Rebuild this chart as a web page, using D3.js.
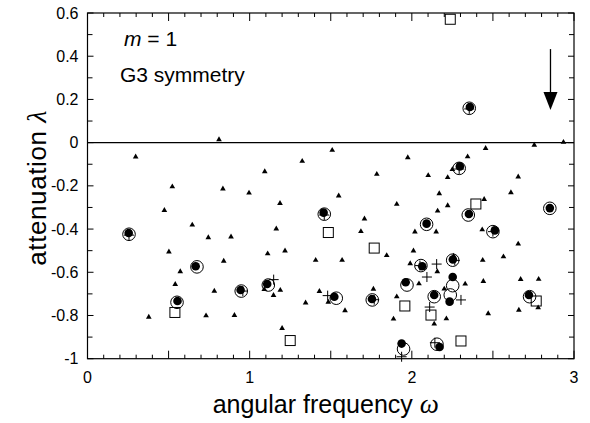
<!DOCTYPE html>
<html><head><meta charset="utf-8">
<script src="https://cdn.jsdelivr.net/npm/d3@7"></script>
<style>body{margin:0;background:#fff}svg{display:block}</style>
</head><body><svg id="c" width="590" height="423"></svg>
<script>
// ---- data (omega, lambda) ----
const triangles = [
[0.297,-0.066],[0.811,0.014],[0.523,-0.204],[0.835,-0.214],[0.996,-0.233],[0.474,-0.313],
[0.646,-0.381],[0.745,-0.439],[0.885,-0.436],[1.509,-0.035],[1.324,-0.086],[1.975,-0.069],
[1.093,-0.134],[1.784,-0.146],[1.187,-0.281],[1.549,-0.246],[1.907,-0.285],[1.708,-0.353],
[1.164,-0.399],[1.686,-0.411],[2.455,-0.026],[2.755,-0.011],[2.935,0.002],[2.344,-0.065],
[2.250,-0.124],[2.101,-0.152],[2.221,-0.161],[2.656,-0.158],[2.169,-0.236],[2.611,-0.231],
[2.446,-0.262],[2.221,-0.291],[2.159,-0.316],[2.019,-0.413],[2.150,-0.413],[2.434,-0.403],
[2.656,-0.469],[0.502,-0.505],[0.840,-0.548],[0.572,-0.597],[0.541,-0.656],[0.782,-0.687],
[0.378,-0.807],[0.731,-0.801],[0.906,-0.799],[1.111,-0.514],[1.218,-0.501],[1.845,-0.522],
[1.407,-0.544],[1.570,-0.544],[1.147,-0.707],[1.189,-0.683],[1.090,-0.679],[1.430,-0.688],
[1.345,-0.741],[1.485,-0.738],[1.588,-0.777],[1.763,-0.678],[1.907,-0.713],[1.887,-0.816],
[1.200,-0.859],[2.010,-0.501],[1.990,-0.560],[2.157,-0.597],[2.257,-0.525],[2.437,-0.544],
[2.565,-0.528],[2.044,-0.653],[2.329,-0.654],[2.441,-0.642],[2.671,-0.633],[2.782,-0.632],
[2.200,-0.677],[2.138,-0.839],[2.213,-0.815],[2.471,-0.791],[2.660,-0.775],[2.779,-0.764]
];
const openCircles = [
[0.256,-0.424],[1.460,-0.331],[2.292,-0.119],[2.354,0.159],[2.348,-0.335],[2.851,-0.304],
[2.091,-0.378],[2.500,-0.412],[0.675,-0.575],[0.948,-0.687],[0.552,-0.739],[1.115,-0.659],
[1.534,-0.720],[1.756,-0.728],[1.970,-0.659],[1.949,-0.955],[2.056,-0.569],[2.252,-0.544],
[2.252,-0.662],[2.138,-0.713],[2.237,-0.705],[2.726,-0.713],[2.155,-0.933]
];
const filledCircles = [
[0.254,-0.418],[1.456,-0.324],[2.296,-0.110],[2.358,0.165],[2.352,-0.330],[2.851,-0.303],
[2.091,-0.375],[2.512,-0.406],[0.667,-0.572],[0.944,-0.682],[0.555,-0.733],[1.108,-0.654],
[1.522,-0.713],[1.754,-0.724],[1.962,-0.646],[1.937,-0.930],[2.064,-0.572],[2.253,-0.541],
[2.252,-0.622],[2.138,-0.705],[2.233,-0.736],[2.722,-0.705],[2.171,-0.946]
];
const squares = [
[2.237,0.571],[1.485,-0.416],[1.768,-0.488],[2.395,-0.284],[0.539,-0.786],[1.250,-0.916],
[1.957,-0.756],[2.118,-0.798],[2.767,-0.733],[2.303,-0.918]
];
const pluses = [
[1.148,-0.634],[1.481,-0.708],[2.153,-0.562],[2.093,-0.622],[2.303,-0.728],[2.110,-0.761],
[2.142,-0.926],[1.937,-0.991],[0.256,-0.428],[1.460,-0.335],[2.292,-0.122],[2.354,0.156],
[2.500,-0.412],[0.958,-0.687],[1.768,-0.727],[2.050,-0.569],[2.265,-0.545]
];
const arrowFrom = [2.855, 0.433];
const arrowTo = [2.855, 0.151];
const xTickLabels = [0, 1, 2, 3];
const yTickLabels = [0.6, 0.4, 0.2, 0, -0.2, -0.4, -0.6, -0.8, -1];
const xDomain = [0, 3];
const yDomain = [-1, 0.6];

// ---- drawing ----
const svg = d3.select("#c");
const L = 87.5, R = 574, T = 13, B = 358.7;
const x = d3.scaleLinear().domain(xDomain).range([L, R]);
const y = d3.scaleLinear().domain(yDomain).range([B, T]);
const font = "'Liberation Sans', Arial, Helvetica, sans-serif";
const serif = "'Liberation Serif', 'Times New Roman', serif";

const g = svg.append("g");

// ticks
const xMinor = d3.range(0, 31).map(i => i / 10);
xMinor.forEach((v, i) => {
  const len = (i % 5 === 0) ? 8 : 4;
  g.append("line").attr("x1", x(v)).attr("x2", x(v)).attr("y1", B).attr("y2", B - len).attr("stroke", "#000").attr("stroke-width", 1);
  g.append("line").attr("x1", x(v)).attr("x2", x(v)).attr("y1", T).attr("y2", T + len).attr("stroke", "#000").attr("stroke-width", 1);
});
const yMinor = d3.range(-10, 7).map(i => i / 10);
yMinor.forEach((v, i) => {
  const len = (Math.round(v * 10) % 2 === 0) ? 6 : 5;
  g.append("line").attr("y1", y(v)).attr("y2", y(v)).attr("x1", L).attr("x2", L + len).attr("stroke", "#000").attr("stroke-width", 1);
  g.append("line").attr("y1", y(v)).attr("y2", y(v)).attr("x1", R).attr("x2", R - len).attr("stroke", "#000").attr("stroke-width", 1);
});

// frame
g.append("rect").attr("x", L).attr("y", T).attr("width", R - L).attr("height", B - T)
  .attr("fill", "none").attr("stroke", "#000").attr("stroke-width", 1.2);

// zero line
g.append("line").attr("x1", L).attr("x2", R).attr("y1", y(0)).attr("y2", y(0)).attr("stroke", "#000").attr("stroke-width", 1.1);

// tick labels
g.selectAll(".xl").data(xTickLabels).enter().append("text")
  .attr("x", d => x(d)).attr("y", B + 24).attr("text-anchor", "middle")
  .attr("font-family", font).attr("font-size", 16).text(d => String(d));
g.selectAll(".yl").data(yTickLabels).enter().append("text")
  .attr("x", L - 9).attr("y", d => y(d) + 5.5).attr("text-anchor", "end")
  .attr("font-family", font).attr("font-size", 16).text(d => String(d));

// axis titles
const xt = g.append("text").attr("x", (L + R) / 2 - 5).attr("y", 413).attr("text-anchor", "middle")
  .attr("font-family", font).attr("font-size", 25);
xt.append("tspan").text("angular frequency ");
xt.append("tspan").attr("font-family", serif).attr("font-style", "italic").attr("font-size", 27).text("ω");

const yt = g.append("text").attr("transform", `translate(46,${(T + B) / 2 + 2}) rotate(-90)`).attr("text-anchor", "middle")
  .attr("font-family", font).attr("font-size", 26).attr("letter-spacing", 0.6);
yt.append("tspan").text("attenuation ");
yt.append("tspan").attr("font-family", serif).attr("font-style", "italic").attr("font-size", 28).text("λ");

// annotations
const m = g.append("text").attr("x", 124).attr("y", 46).attr("font-family", font).attr("font-size", 21);
m.append("tspan").attr("font-style", "italic").text("m");
m.append("tspan").text(" = 1");
g.append("text").attr("x", 120).attr("y", 82).attr("font-family", font).attr("font-size", 21).text("G3 symmetry");

// arrow
g.append("line").attr("x1", x(arrowFrom[0])).attr("x2", x(arrowTo[0]))
  .attr("y1", y(arrowFrom[1])).attr("y2", y(arrowTo[1]) - 14).attr("stroke", "#000").attr("stroke-width", 1.3);
g.append("path").attr("d", `M${x(arrowTo[0]) - 7},${y(arrowTo[1]) - 18} L${x(arrowTo[0]) + 7},${y(arrowTo[1]) - 18} L${x(arrowTo[0])},${y(arrowTo[1])} Z`).attr("fill", "#000");

// marks
g.selectAll(".sq").data(squares).enter().append("rect")
  .attr("x", d => x(d[0]) - 5).attr("y", d => y(d[1]) - 5).attr("width", 10).attr("height", 10)
  .attr("fill", "none").attr("stroke", "#000").attr("stroke-width", 1);
g.selectAll(".oc").data(openCircles).enter().append("circle")
  .attr("cx", d => x(d[0])).attr("cy", d => y(d[1])).attr("r", 6.3)
  .attr("fill", "none").attr("stroke", "#000").attr("stroke-width", 1);
g.selectAll(".fc").data(filledCircles).enter().append("circle")
  .attr("cx", d => x(d[0])).attr("cy", d => y(d[1])).attr("r", 4.3).attr("fill", "#000");
g.selectAll(".pl").data(pluses).enter().append("path")
  .attr("d", d => `M${x(d[0]) - 5},${y(d[1])}h10M${x(d[0])},${y(d[1]) - 5}v10`)
  .attr("stroke", "#000").attr("stroke-width", 1).attr("fill", "none");
const tri = d3.symbol().type(d3.symbolTriangle).size(14);
g.selectAll(".tr").data(triangles).enter().append("path")
  .attr("transform", d => `translate(${x(d[0])},${y(d[1])})`).attr("d", tri).attr("fill", "#000");
</script></body></html>
